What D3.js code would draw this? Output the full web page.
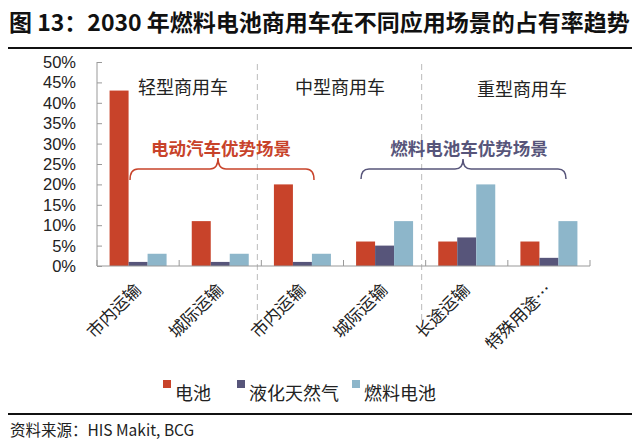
<!DOCTYPE html>
<html>
<head>
<meta charset="utf-8">
<script src="https://cdn.jsdelivr.net/npm/d3@7"></script>
<style>
  body { margin: 0; background: #fff; }
  text { font-family: "Noto Sans CJK SC", "Noto Sans", sans-serif; }
</style>
</head>
<body>
<script>
var categories = ["市内运输", "城际运输", "市内运输", "城际运输", "长途运输", "特殊用途…"];
var seriesNames = ["电池", "液化天然气", "燃料电池"];
var battery = [43, 11, 20, 6, 6, 6];
var lng = [1, 1, 1, 5, 7, 2];
var fuelCell = [3, 3, 3, 11, 20, 11];
var yTicks = [0, 5, 10, 15, 20, 25, 30, 35, 40, 45, 50];
var groupNames = ["轻型商用车", "中型商用车", "重型商用车"];
var colors = ["#C8432A", "#57557A", "#8DB6CA"];

var series = [battery, lng, fuelCell];

var svg = d3.select("body").append("svg")
    .attr("width", 640)
    .attr("height", 440);

// title + rules
svg.append("text")
    .attr("x", 9).attr("y", 31)
    .attr("font-size", 23)
    .attr("font-weight", "bold")
    .attr("fill", "#111")
    .text("图 13：2030 年燃料电池商用车在不同应用场景的占有率趋势");
svg.append("line")
    .attr("x1", 8).attr("x2", 632).attr("y1", 48).attr("y2", 48)
    .attr("stroke", "#111").attr("stroke-width", 2);
svg.append("line")
    .attr("x1", 8).attr("x2", 632).attr("y1", 414).attr("y2", 414)
    .attr("stroke", "#111").attr("stroke-width", 2);
svg.append("text")
    .attr("x", 10).attr("y", 436)
    .attr("font-size", 15.5)
    .attr("fill", "#222")
    .text("资料来源：HIS Makit, BCG");

var x = d3.scaleBand()
    .domain(d3.range(categories.length))
    .range([97, 590]);

var y = d3.scaleLinear()
    .domain([0, 50])
    .range([266, 62]);

var barW = 19;

// dashed separators between vehicle classes
svg.selectAll("line.sep")
    .data([2, 4])
    .enter().append("line")
    .attr("class", "sep")
    .attr("x1", function (d) { return x(d) - 4; })
    .attr("x2", function (d) { return x(d) - 4; })
    .attr("y1", 64).attr("y2", 320)
    .attr("stroke", "#bbb")
    .attr("stroke-dasharray", "6,4");

// bars
series.forEach(function (s, si) {
    svg.selectAll("rect.s" + si)
        .data(s)
        .enter().append("rect")
        .attr("class", "s" + si)
        .attr("fill", colors[si])
        .attr("x", function (d, i) { return x(i) + x.bandwidth() / 2 - 1.5 * barW + si * barW; })
        .attr("width", barW)
        .attr("y", function (d) { return y(d); })
        .attr("height", function (d) { return y(0) - y(d); });
});

// y axis, ticks point inward
var yAxis = svg.append("g")
    .attr("transform", "translate(97,0)")
    .call(d3.axisRight(y).tickValues(yTicks).tickSize(5).tickFormat(""));
yAxis.select(".domain").attr("stroke", "#999").attr("d", "M0,62V266");
yAxis.selectAll(".tick line").attr("stroke", "#999");

// style() so it beats the css rule above
svg.selectAll("text.ylab")
    .data(yTicks)
    .enter().append("text")
    .attr("class", "ylab")
    .attr("x", 76)
    .attr("y", function (d) { return y(d) + 6; })
    .attr("text-anchor", "end")
    .style("font-family", "'Liberation Sans', Arial, sans-serif")
    .attr("font-size", 16.5)
    .attr("fill", "#222")
    .text(function (d) { return d + "%"; });

// x axis, ticks upward at band edges
var xAxis = svg.append("g").attr("transform", "translate(0,266)");
xAxis.append("line")
    .attr("x1", 97).attr("x2", 590)
    .attr("stroke", "#999");
xAxis.selectAll("line.xt")
    .data(d3.range(categories.length + 1))
    .enter().append("line")
    .attr("class", "xt")
    .attr("x1", function (d) { return 97 + d * x.bandwidth(); })
    .attr("x2", function (d) { return 97 + d * x.bandwidth(); })
    .attr("y1", 0).attr("y2", -6)
    .attr("stroke", "#999");

svg.selectAll("text.xlab")
    .data(categories)
    .enter().append("text")
    .attr("class", "xlab")
    .attr("text-anchor", "end")
    .attr("font-size", 17)
    .attr("fill", "#222")
    .attr("transform", function (d, i) {
        return "translate(" + (x(i) + x.bandwidth() / 2 + 4) + ",291) rotate(-45)";
    })
    .text(function (d) { return d; });

// class titles
var groupX = [183, 340, 522];
svg.selectAll("text.grp")
    .data(groupNames)
    .enter().append("text")
    .attr("class", "grp")
    .attr("x", function (d, i) { return groupX[i]; })
    .attr("y", function (d, i) { return i == 2 ? 96 : 94; })
    .attr("text-anchor", "middle")
    .attr("font-size", 18)
    .attr("fill", "#222")
    .text(function (d) { return d; });

// braces
function brace(x1, x2, tip, yLine, yEnd, yTip) {
    var r = 8;
    return "M" + x1 + "," + yEnd +
        "Q" + x1 + "," + yLine + " " + (x1 + r) + "," + yLine +
        "L" + (tip - r) + "," + yLine +
        "Q" + tip + "," + yLine + " " + tip + "," + yTip +
        "Q" + tip + "," + yLine + " " + (tip + r) + "," + yLine +
        "L" + (x2 - r) + "," + yLine +
        "Q" + x2 + "," + yLine + " " + x2 + "," + yEnd;
}
svg.append("path")
    .attr("d", brace(130, 314, 218, 169, 180, 158))
    .attr("fill", "none").attr("stroke", "#C8432A").attr("stroke-width", 1.5);
svg.append("path")
    .attr("d", brace(361, 566, 463, 169, 179, 159))
    .attr("fill", "none").attr("stroke", "#57557A").attr("stroke-width", 1.5);

svg.append("text")
    .attr("x", 221).attr("y", 155)
    .attr("text-anchor", "middle")
    .attr("font-size", 17.5).attr("font-weight", "bold")
    .attr("fill", "#C8432A")
    .text("电动汽车优势场景");
svg.append("text")
    .attr("x", 469).attr("y", 155)
    .attr("text-anchor", "middle")
    .attr("font-size", 17.5).attr("font-weight", "bold")
    .attr("fill", "#57557A")
    .text("燃料电池车优势场景");

// legend
var legendX = [163, 237, 352];
var lg = svg.selectAll("g.lg")
    .data(seriesNames)
    .enter().append("g")
    .attr("class", "lg")
    .attr("transform", function (d, i) { return "translate(" + legendX[i] + ",380)"; });
lg.append("rect")
    .attr("width", 8).attr("height", 8)
    .attr("fill", function (d, i) { return colors[i]; });
lg.append("text")
    .attr("x", 12).attr("y", 20)
    .attr("font-size", 18)
    .attr("fill", "#222")
    .text(function (d) { return d; });
</script>
</body>
</html>
